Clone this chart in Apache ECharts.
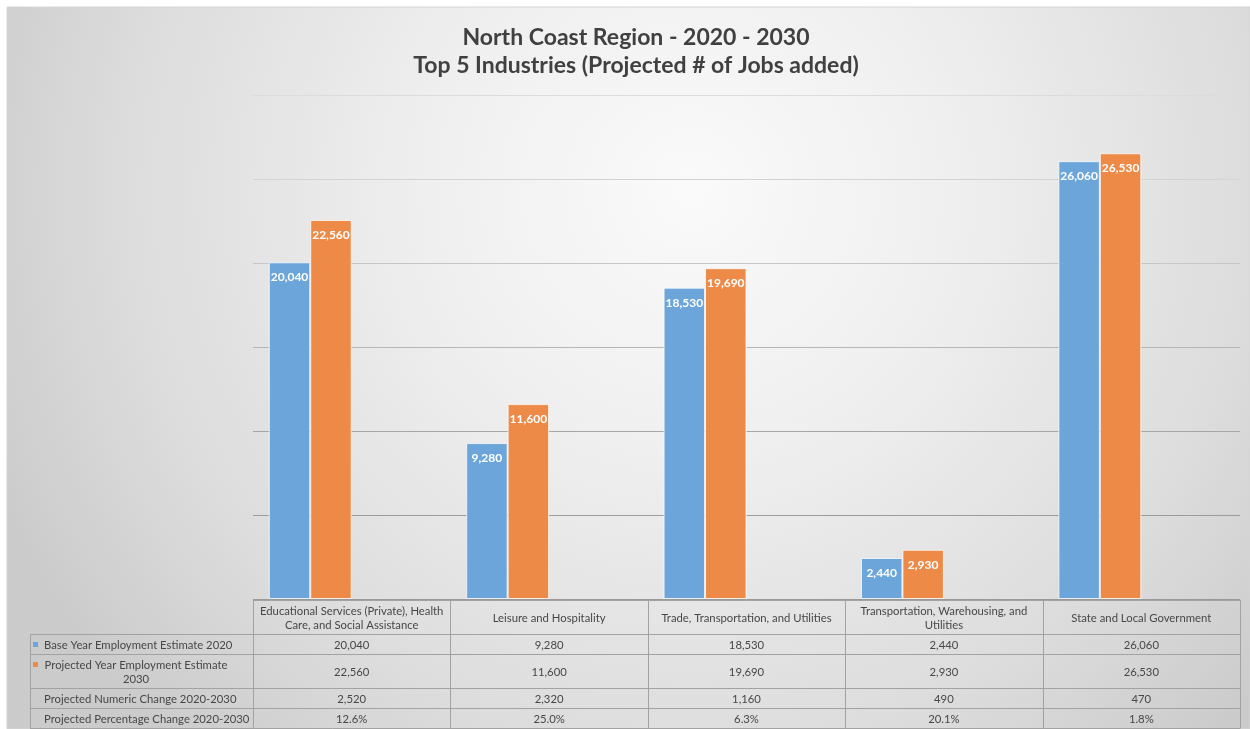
<!DOCTYPE html>
<html><head><meta charset="utf-8">
<script src="https://cdn.jsdelivr.net/npm/echarts@6/dist/echarts.min.js"></script>
<style>html,body{margin:0;padding:0;background:#fff;overflow:hidden}#c{width:1250px;height:729px}</style>
</head><body><div id="c"></div>
<script>
// ---- data ----
const titleLines = ['North Coast Region - 2020 - 2030', 'Top 5 Industries (Projected # of Jobs added)'];
const categories = ['Educational Services (Private), Health Care, and Social Assistance', 'Leisure and Hospitality', 'Trade, Transportation, and Utilities', 'Transportation, Warehousing, and Utilities', 'State and Local Government'];
const headerLabels = ['Educational Services (Private), Health\nCare, and Social Assistance', 'Leisure and Hospitality', 'Trade, Transportation, and Utilities', 'Transportation, Warehousing, and\nUtilities', 'State and Local Government'];
const seriesNames = ['Base Year Employment Estimate 2020', 'Projected Year Employment Estimate 2030', 'Projected Numeric Change 2020-2030', 'Projected Percentage Change 2020-2030'];
const rowLabels = ['Base Year Employment Estimate 2020', 'Projected Year Employment Estimate\n2030', 'Projected Numeric Change 2020-2030', 'Projected Percentage Change 2020-2030'];
const baseYear = [20040, 9280, 18530, 2440, 26060];
const projectedYear = [22560, 11600, 19690, 2930, 26530];
const numericChange = [2520, 2320, 1160, 490, 470];
const pctChange = [12.6, 25.0, 6.3, 20.1, 1.8];
const yMin = 0, yMax = 30000, yStep = 5000;

// ---- style ----
const FONT = 'Lato';
const colors = ['#6ba5d9', '#ee8a47'];
const gridColors = ['#999999', '#9c9c9c', '#a6a6a6', '#b6b6b6', '#c6c6c6', '#d3d3d3', '#dcdcdc'];
const fmtNum = v => v.toLocaleString('en-US');
const fmtPct = v => v.toFixed(1) + '%';
const allSeries = [baseYear, projectedYear, numericChange, pctChange];
const rowFormat = [fmtNum, fmtNum, fmtNum, fmtPct];

const chart = echarts.init(document.getElementById('c'));
const gridL = 253, gridR = 1240, gridT = 95, gridBottomY = 599;

const option = {
  animation: false,
  title: {
    text: titleLines.join('\n'),
    left: 631, top: 19, textAlign: 'center',
    textStyle: { fontFamily: FONT, fontWeight: 'bold', fontSize: 23, color: '#404040', lineHeight: 28 }
  },
  grid: { left: gridL, right: 1250 - gridR, top: gridT, bottom: 729 - gridBottomY, containLabel: false },
  xAxis: {
    type: 'category', data: categories,
    axisLine: { show: false }, axisTick: { show: false }, axisLabel: { show: false }
  },
  yAxis: {
    type: 'value', min: yMin, max: yMax, interval: yStep,
    axisLabel: { show: false }, axisLine: { show: false }, axisTick: { show: false },
    splitLine: { show: true, lineStyle: { color: gridColors, width: 1 } }
  },
  series: seriesNames.map((n, i) => ({
    name: n, type: 'bar', data: allSeries[i],
    barGap: '0%', barCategoryGap: '16%',
    silent: i >= 2,
    itemStyle: i < 2 ? { color: colors[i], borderColor: 'rgba(255,255,255,0.75)', borderWidth: 1 } : { color: 'rgba(0,0,0,0)' },
    label: {
      show: i < 2, position: 'insideTop', distance: 9, color: '#ffffff',
      fontFamily: FONT, fontWeight: 'bold', fontSize: 12,
      formatter: p => fmtNum(p.value)
    }
  }))
};
chart.setOption(option);

// ---- data table built from the axis scale ----
const c0 = chart.convertToPixel({ xAxisIndex: 0 }, categories[0]);
const c1 = chart.convertToPixel({ xAxisIndex: 0 }, categories[1]);
const band = c1 - c0;
const colEdges = [];
for (let k = 0; k <= categories.length; k++) colEdges.push(c0 - band / 2 + k * band);
const rowEdges = [600, 634, 654, 688, 708, 728];
const tableLeft = 30;
const lineCol = '#a2a2a2';
const textCol = '#474747';
const tFont = '11.3px ' + FONT;
const els = [];

els.push({
  type: 'rect', z: -100, silent: true,
  shape: { x: 7, y: 7, width: 1243, height: 722 },
  style: {
    fill: { type: 'radial', x: 690, y: 190, r: 760, global: true,
      colorStops: [{ offset: 0, color: '#fafafa' }, { offset: 0.35, color: '#efefef' }, { offset: 0.75, color: '#dcdcdc' }, { offset: 1, color: '#cbcbcb' }] },
    stroke: '#d4d4d4', lineWidth: 1
  }
});

const hl = (x1, x2, y) => els.push({ type: 'line', z: 50, silent: true, shape: { x1, y1: y + 0.5, x2, y2: y + 0.5 }, style: { stroke: lineCol, lineWidth: 1 } });
const vl = (x, y1, y2) => els.push({ type: 'line', z: 50, silent: true, shape: { x1: Math.round(x) + 0.5, y1, x2: Math.round(x) + 0.5, y2 }, style: { stroke: lineCol, lineWidth: 1 } });

hl(colEdges[0], colEdges[colEdges.length - 1], rowEdges[0]);
for (let r = 1; r < rowEdges.length; r++) hl(tableLeft, colEdges[colEdges.length - 1], rowEdges[r]);
vl(tableLeft, rowEdges[1], rowEdges[rowEdges.length - 1] + 0.5);
colEdges.forEach(x => vl(x, rowEdges[0], rowEdges[rowEdges.length - 1] + 0.5));

const txt = (text, x, y, align) => els.push({
  type: 'text', z: 60, silent: true,
  style: { text, x, y, font: tFont, fill: textCol, align, verticalAlign: 'middle', textAlign: align, textVerticalAlign: 'middle', lineHeight: 14 }
});

// header row
headerLabels.forEach((h, k) => txt(h, (colEdges[k] + colEdges[k + 1]) / 2, (rowEdges[0] + rowEdges[1]) / 2 + 1, 'center'));
// rows
rowLabels.forEach((lab, r) => {
  const cy = (rowEdges[r + 1] + rowEdges[r + 2]) / 2 + 1;
  if (lab.indexOf('\n') >= 0) txt(lab, 136, cy, 'center');
  else txt(lab, 44, cy, 'left');
  if (r < 2) {
    els.push({ type: 'rect', z: 60, silent: true, shape: { x: 33, y: (r === 0 ? cy : cy - 7) - 3, width: 5, height: 5 }, style: { fill: colors[r] } });
  }
  allSeries[r].forEach((v, k) => txt(rowFormat[r](v), (colEdges[k] + colEdges[k + 1]) / 2, cy, 'center'));
});

chart.setOption({ graphic: { elements: els } });
</script>
</body></html>
